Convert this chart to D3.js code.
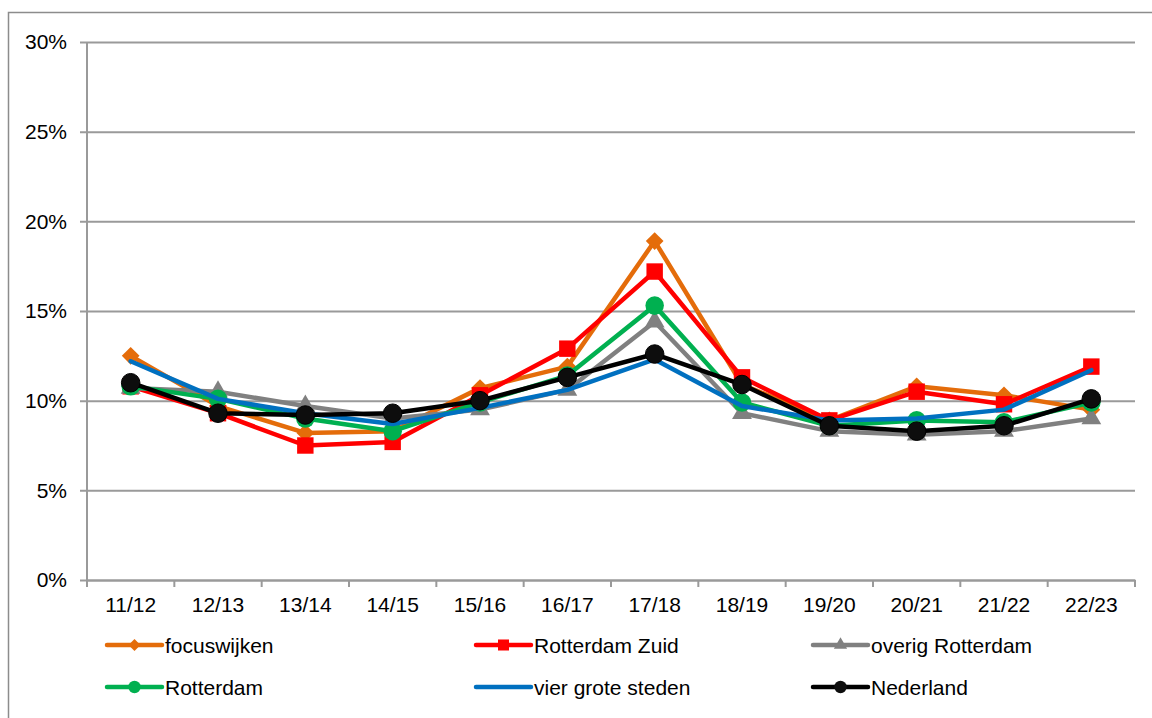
<!DOCTYPE html>
<meta charset="utf-8">
<script src="https://cdn.jsdelivr.net/npm/d3@7"></script>
<style>
  body { margin: 0; background: #fff; }
  text { font-family: "Liberation Sans", Arial, sans-serif; fill: #000; }
</style>
<div id="my_dataviz"></div>
<script>

// data
var years = ["11/12", "12/13", "13/14", "14/15", "15/16", "16/17", "17/18", "18/19", "19/20", "20/21", "21/22", "22/23"];
var focuswijken   = [12.5, 9.7, 8.2, 8.3, 10.7, 11.9, 18.9, 10.9, 8.9, 10.8, 10.3, 9.5];
var rotterdamZuid = [10.8, 9.3, 7.5, 7.7, 10.3, 12.9, 17.2, 11.3, 8.9, 10.5, 9.8, 11.9];
var overigRdam    = [10.7, 10.5, 9.7, 9.0, 9.5, 10.6, 14.4, 9.3, 8.3, 8.1, 8.3, 9.0];
var rotterdam     = [10.8, 10.1, 9.0, 8.3, 9.9, 11.4, 15.3, 9.9, 8.6, 8.9, 8.8, 9.9];
var vierSteden    = [12.2, 10.1, 9.3, 8.7, 9.6, 10.6, 12.3, 9.7, 8.9, 9.0, 9.5, 11.7];
var nederland     = [11.0, 9.3, 9.2, 9.3, 10.0, 11.3, 12.6, 10.9, 8.6, 8.3, 8.6, 10.1];
var yTicks = [0, 5, 10, 15, 20, 25, 30];

var series = [
  {name: "focuswijken", values: focuswijken, color: "#e46c0a", marker: "diamond"},
  {name: "Rotterdam Zuid", values: rotterdamZuid, color: "#ff0000", marker: "square"},
  {name: "overig Rotterdam", values: overigRdam, color: "#808080", marker: "triangle"},
  {name: "Rotterdam", values: rotterdam, color: "#00b050", marker: "circle"},
  {name: "vier grote steden", values: vierSteden, color: "#0070c0", marker: "none"},
  {name: "Nederland", values: nederland, color: "#000000", marker: "circle"}
];

var W = 1152, H = 718;
var margin = {top: 42, right: 17, bottom: 138, left: 87};
var width = W - margin.left - margin.right,
    height = H - margin.top - margin.bottom;

var svg = d3.select("#my_dataviz").append("svg")
  .attr("width", W).attr("height", H);

// outer chart border
svg.append("rect")
  .attr("x", 8.5).attr("y", 12.5)
  .attr("width", W + 20).attr("height", H + 20)
  .style("fill", "none").style("stroke", "#8c8c8c").style("stroke-width", 1.5);

var g = svg.append("g")
  .attr("transform", "translate(" + margin.left + "," + margin.top + ")");

var xScale = d3.scaleBand().domain(years).range([0, width]);
var yScale = d3.scaleLinear().domain([0, 30]).range([height, 0]);

// gridlines + y axis
var yAxis = g.append("g")
  .call(d3.axisLeft(yScale).tickValues(yTicks).tickSize(-width).tickPadding(20)
        .tickFormat(function(d) { return d + "%"; }));
yAxis.select(".domain").remove();
yAxis.selectAll("line").attr("x1", -7).style("stroke", "#9a9a9a").style("stroke-width", 2);
yAxis.selectAll("text").style("font-size", "21px");

g.append("line")
  .attr("x1", 0).attr("x2", 0).attr("y1", 0).attr("y2", height)
  .style("stroke", "#9a9a9a").style("stroke-width", 2);

// x axis
var xAxis = g.append("g")
  .attr("transform", "translate(0," + height + ")")
  .call(d3.axisBottom(xScale).tickSize(0).tickPadding(17));
xAxis.select(".domain").style("stroke", "#9a9a9a").style("stroke-width", 2);
xAxis.selectAll("text").style("font-size", "21px");

var bounds = years.map(function(d) { return xScale(d); }).concat([width]);
g.selectAll(".xtick").data(bounds).enter().append("line")
  .attr("x1", function(d) { return d; }).attr("x2", function(d) { return d; })
  .attr("y1", height).attr("y2", height + 7)
  .style("stroke", "#9a9a9a").style("stroke-width", 2);

var cx = function(i) { return xScale(years[i]) + xScale.bandwidth() / 2; };

var line = d3.line()
  .x(function(d, i) { return cx(i); })
  .y(function(d) { return yScale(d); });

function markerPath(type, size) {
  if (type == "diamond") return d3.symbol().type(d3.symbolDiamond2).size(size)();
  if (type == "square") return d3.symbol().type(d3.symbolSquare).size(size)();
  if (type == "triangle") return d3.symbol().type(d3.symbolTriangle).size(size)();
  if (type == "circle") return d3.symbol().type(d3.symbolCircle).size(size)();
  return null;
}
var markerSize = {diamond: 200, square: 270, triangle: 170, circle: 270};

series.forEach(function(s) {
  g.append("path")
    .datum(s.values)
    .attr("d", line)
    .style("fill", "none")
    .style("stroke", s.color)
    .style("stroke-width", 4.5)
    .style("stroke-linejoin", "round")
    .style("stroke-linecap", "round");

  if (s.marker != "none") {
    g.selectAll(null).data(s.values).enter().append("path")
      .attr("transform", function(d, i) { return "translate(" + cx(i) + "," + yScale(d) + ")"; })
      .attr("d", markerPath(s.marker, markerSize[s.marker]))
      .style("fill", s.name == "Nederland" ? "#0d0d0d" : s.color)
      .style("stroke", s.name == "Nederland" ? "#000" : "none")
      .style("stroke-width", 1);
  }
});

// legend
var legendX = [107, 476, 813];
var legendY = [645, 687];
series.forEach(function(s, i) {
  var lx = legendX[i % 3], ly = legendY[Math.floor(i / 3)];
  var lg = svg.append("g").attr("transform", "translate(" + lx + "," + ly + ")");
  lg.append("line")
    .attr("x1", 0).attr("x2", 55).attr("y1", 0).attr("y2", 0)
    .style("stroke", s.color).style("stroke-width", 4.5).style("stroke-linecap", "round");
  if (s.marker != "none") {
    lg.append("path")
      .attr("transform", "translate(27.5,0)")
      .attr("d", markerPath(s.marker, markerSize[s.marker] * 0.45))
      .style("fill", s.name == "Nederland" ? "#0d0d0d" : s.color);
  }
  lg.append("text")
    .attr("x", 58).attr("y", 7.5)
    .style("font-size", "21px")
    .text(s.name);
});

</script>
